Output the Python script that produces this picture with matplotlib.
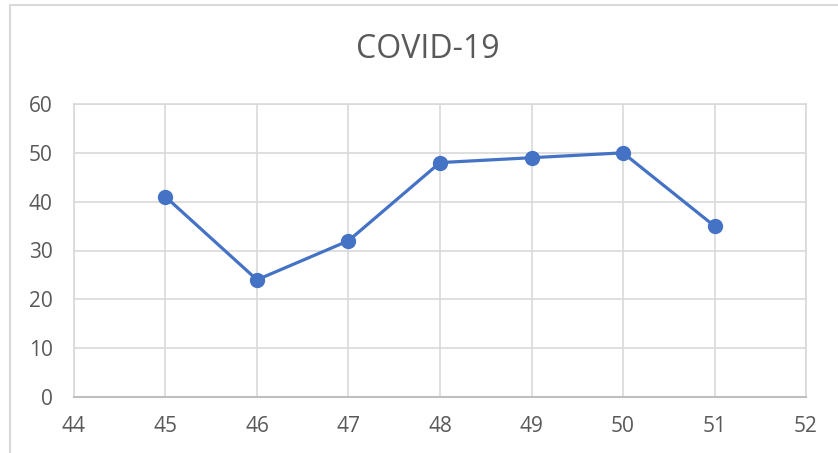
import matplotlib
matplotlib.use("Agg")
import matplotlib.pyplot as plt
from matplotlib.patches import Rectangle

weeks = [45, 46, 47, 48, 49, 50, 51]
cases = [41, 24, 32, 48, 49, 50, 35]
x_ticks = [44, 45, 46, 47, 48, 49, 50, 51, 52]
y_ticks = [0, 10, 20, 30, 40, 50, 60]
title = "COVID-19"

plt.rcParams['font.family'] = ['Open Sans', 'DejaVu Sans']

W, H = 838, 453
fig = plt.figure(figsize=(W / 100, H / 100), dpi=100)
fig.patch.set_facecolor('white')

# outer chart frame
fig.patches.append(Rectangle((10 / W, -0.1), 1.1, 1 - 5 / H + 0.1,
                             transform=fig.transFigure, fill=False,
                             edgecolor='#d9d9d9', linewidth=1.5))

ax = fig.add_axes([74 / W, 1 - 397 / H, (806 - 74) / W, (397 - 104) / H])
ax.plot(weeks, cases, color='#4472C4', linewidth=2.3, marker='o',
        markersize=10, markerfacecolor='#4472C4', markeredgecolor='#4472C4',
        zorder=3)
ax.set_xlim(44, 52)
ax.set_ylim(0, 60)
ax.set_xticks(x_ticks)
ax.set_yticks(y_ticks)
ax.grid(True, color='#d9d9d9', linewidth=1.2)
ax.set_axisbelow(True)
for s in ['top', 'right', 'left']:
    ax.spines[s].set_color('#d9d9d9')
    ax.spines[s].set_linewidth(1.2)
ax.spines['bottom'].set_color('#bfbfbf')
ax.spines['bottom'].set_linewidth(1.5)
ax.tick_params(axis='both', length=0, labelsize=15, labelcolor='#595959')
ax.tick_params(axis='y', pad=15.5)
ax.tick_params(axis='x', pad=14)

fig.text(428 / W, 1 - 49 / H, title, ha='center', va='center',
         fontsize=23, color='#595959')

fig.savefig('out.png', dpi=100)
